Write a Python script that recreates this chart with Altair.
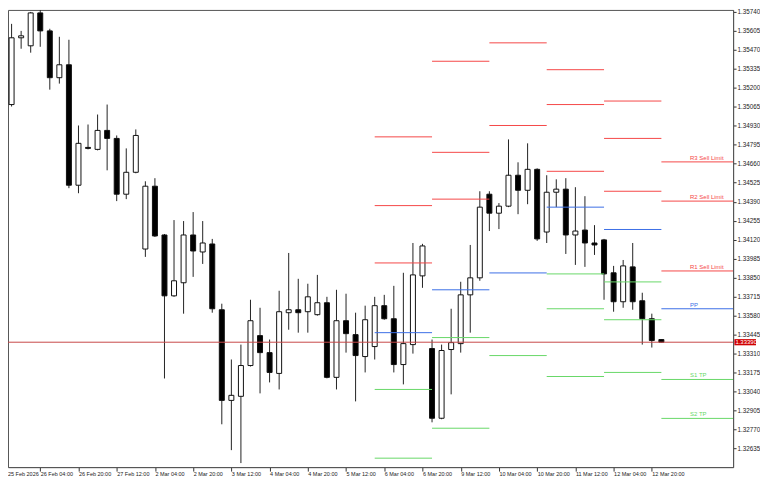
import altair as alt
import pandas as pd

# ---------------- data (4-hour candles, 25 Feb 2026 12:00 -> 13 Mar 2026 00:00) ----------------
opens = [1.35180, 1.35081, 1.35556, 1.35499, 1.35733, 1.35605, 1.35272, 1.35364, 1.34507, 1.34776,
         1.34762, 1.34897, 1.34840, 1.34443, 1.34599, 1.34053, 1.34500, 1.34153, 1.33720, 1.33813,
         1.34153, 1.34032, 1.34089, 1.33621, 1.32976, 1.33005, 1.33224, 1.33437, 1.33316, 1.33168,
         1.33600, 1.33621, 1.33607, 1.33586, 1.33671, 1.33140, 1.33543, 1.33444, 1.33288, 1.33359,
         1.33650, 1.33557, 1.33231, 1.33373, 1.33862, 1.33345, 1.32849, 1.33338, 1.33380, 1.33727,
         1.33848, 1.34443, 1.34308, 1.34358, 1.34578, 1.34471, 1.34620, 1.34174, 1.34457, 1.34479,
         1.34153, 1.34188, 1.34096, 1.34118, 1.33884, 1.33678, 1.33926, 1.33685, 1.33557, 1.33409]
highs = [1.35194, 1.35655, 1.35605, 1.35740, 1.35754, 1.35620, 1.35563, 1.35542, 1.34932, 1.34939,
         1.35010, 1.35081, 1.34861, 1.34769, 1.34904, 1.34535, 1.34557, 1.34160, 1.34259, 1.34252,
         1.34316, 1.34252, 1.34125, 1.33664, 1.33267, 1.33373, 1.33692, 1.33635, 1.33409, 1.33756,
         1.34025, 1.33841, 1.33806, 1.33869, 1.33713, 1.33763, 1.33735, 1.33600, 1.33650, 1.33713,
         1.33727, 1.33791, 1.33884, 1.34096, 1.34090, 1.33409, 1.33373, 1.33628, 1.33820, 1.34082,
         1.34464, 1.34464, 1.34380, 1.34833, 1.34670, 1.34805, 1.34627, 1.34578, 1.34549, 1.34557,
         1.34493, 1.34429, 1.34223, 1.34125, 1.33933, 1.33975, 1.34096, 1.33742, 1.33593, 1.33412]
lows = [1.35074, 1.35067, 1.35478, 1.35450, 1.35492, 1.35187, 1.35230, 1.34486, 1.34450, 1.34762,
        1.34755, 1.34613, 1.34394, 1.34408, 1.34592, 1.33997, 1.34139, 1.33132, 1.33713, 1.33593,
        1.33855, 1.33947, 1.33600, 1.32806, 1.32622, 1.32530, 1.33217, 1.33026, 1.33104, 1.33054,
        1.33479, 1.33458, 1.33458, 1.33579, 1.33133, 1.33054, 1.33316, 1.32969, 1.33175, 1.33267,
        1.33550, 1.33175, 1.33090, 1.33309, 1.33777, 1.32820, 1.32842, 1.33019, 1.33316, 1.33458,
        1.33827, 1.34181, 1.34195, 1.34351, 1.34301, 1.34372, 1.34111, 1.34096, 1.34351, 1.34018,
        1.33940, 1.33926, 1.34011, 1.33692, 1.33607, 1.33635, 1.33621, 1.33373, 1.33352, 1.33388]
closes = [1.35081, 1.35556, 1.35570, 1.35733, 1.35605, 1.35272, 1.35364, 1.34507, 1.34805, 1.34769,
          1.34897, 1.34840, 1.34443, 1.34599, 1.34861, 1.34500, 1.34146, 1.33720, 1.33827, 1.34153,
          1.34039, 1.34096, 1.33628, 1.32976, 1.33012, 1.33224, 1.33543, 1.33316, 1.33175, 1.33607,
          1.33621, 1.33600, 1.33713, 1.33671, 1.33140, 1.33543, 1.33451, 1.33295, 1.33550, 1.33650,
          1.33557, 1.33231, 1.33380, 1.33869, 1.34075, 1.32849, 1.33331, 1.33387, 1.33727, 1.33848,
          1.34351, 1.34308, 1.34358, 1.34578, 1.34471, 1.34620, 1.34125, 1.34457, 1.34479, 1.34153,
          1.34181, 1.34096, 1.34082, 1.33876, 1.33678, 1.33933, 1.33678, 1.33557, 1.33402, 1.33390]

# time-axis labels, one every 4 bars (bar 0 = 25 Feb 12:00)
time_labels = ["25 Feb 2026", "26 Feb 04:00", "26 Feb 20:00", "27 Feb 12:00", "2 Mar 04:00",
               "2 Mar 20:00", "3 Mar 12:00", "4 Mar 04:00", "4 Mar 20:00", "5 Mar 12:00",
               "6 Mar 04:00", "6 Mar 20:00", "9 Mar 12:00", "10 Mar 04:00", "10 Mar 20:00",
               "11 Mar 12:00", "12 Mar 04:00", "12 Mar 20:00"]

price_ticks = [1.35740, 1.35605, 1.35470, 1.35335, 1.35200, 1.35065, 1.34930, 1.34795,
               1.34660, 1.34525, 1.34390, 1.34255, 1.34120, 1.33985, 1.33850, 1.33715,
               1.33580, 1.33445, 1.33310, 1.33175, 1.33040, 1.32905, 1.32770, 1.32635]

# daily pivot levels (start bar, end bar of each day)
day_start = [39, 45, 51, 57, 63, 69]
day_end = [45, 51, 57, 63, 69, 78]
lvl_R3 = [1.34851, 1.35389, None, 1.35329, 1.35106, 1.34673]
lvl_R2 = [1.34362, 1.34741, 1.35520, 1.35081, 1.34840, 1.34394]
lvl_R1 = [1.33954, 1.34408, 1.34932, 1.34606, 1.34464, 1.33897]
lvl_PP = [1.33458, 1.33763, 1.33883, 1.34351, 1.34192, 1.33628]
lvl_S1 = [1.33054, 1.33423, 1.33295, 1.33876, 1.33819, 1.33125]
lvl_S2 = [1.32565, 1.32778, None, 1.33628, 1.33550, 1.32848]
lvl_S3 = [None, None, None, 1.33146, 1.33175, None]
last_day_labels = {"R3": "R3 Sell Limit", "R2": "R2 Sell Limit", "R1": "R1 Sell Limit",
                   "PP": "PP", "S1": "S1 TP", "S2": "S2 TP"}

bid = 1.33390

# ---------------- tables ----------------
candles = pd.DataFrame({"i": range(len(opens)), "open": opens, "high": highs,
                        "low": lows, "close": closes})

rows = []
for name, vals in [("R3", lvl_R3), ("R2", lvl_R2), ("R1", lvl_R1), ("PP", lvl_PP),
                   ("S1", lvl_S1), ("S2", lvl_S2), ("S3", lvl_S3)]:
    for d, v in enumerate(vals):
        if v is not None:
            rows.append({"kind": name[0] if name != "PP" else "P", "name": name,
                         "start": day_start[d], "end": day_end[d], "price": v,
                         "label": last_day_labels.get(name, "") if d == len(day_start) - 1 else ""})
levels = pd.DataFrame(rows)
labels_df = levels[levels["label"] != ""]

# ---------------- scales / axes ----------------
W, H = 728, 459
XS = alt.Scale(domain=[0.6254, 76.506], nice=False, zero=False, padding=0)
YS = alt.Scale(domain=[1.325014, 1.357542], nice=False, zero=False, padding=0)
FONT = "Liberation Sans"
RED, BLUE, GREEN = "#f54848", "#3b6fe6", "#68d868"
kind_color = alt.Color("kind:N", scale=alt.Scale(domain=["R", "P", "S"], range=[RED, BLUE, GREEN]),
                       legend=None)

label_expr = "[" + ",".join("'" + s + "'" for s in time_labels) + "][round(datum.value/4)]"

x_axis = alt.Axis(values=list(range(4, 4 * len(time_labels), 4)), labelExpr=label_expr,
                  grid=False, tickSize=4, tickColor="#333", domainColor="#555",
                  labelAlign="left", labelBaseline="middle", labelPadding=2.5,
                  labelFont=FONT, labelFontSize=5.5, labelColor="#222", labelFlush=False,
                  labelOverlap=False, title=None)
y_axis = alt.Axis(orient="right", values=price_ticks, format=".5f", grid=False, tickSize=3,
                  tickColor="#333", domainColor="#555", labelPadding=1, labelFont=FONT,
                  labelFontSize=6.3, labelColor="#222", labelOverlap=False, labelFlush=False,
                  title=None)


def X(field, **kw):
    return alt.X(field, scale=XS, axis=x_axis, **kw)


def Y(field, **kw):
    return alt.Y(field, scale=YS, axis=y_axis, **kw)


base = alt.Chart(candles)

wicks = base.mark_rule(color="#222", strokeWidth=1, clip=True).encode(
    x=X("i:Q"), y=Y("low:Q"), y2="high:Q",
)

bodies = base.mark_bar(width=5, stroke="#111", strokeWidth=1, clip=True).encode(
    x=X("i:Q"), y=Y("open:Q"), y2="close:Q",
    fill=alt.condition("datum.close >= datum.open", alt.value("white"), alt.value("black")),
)

level_lines = alt.Chart(levels).mark_rule(strokeWidth=1, clip=True).encode(
    x=X("start:Q"), x2="end:Q", y=Y("price:Q"), color=kind_color,
)

level_text = alt.Chart(labels_df).mark_text(
    align="left", baseline="alphabetic", dy=-2, font=FONT, fontSize=6
).encode(
    x=alt.datum(72.0, scale=XS, axis=x_axis),
    y=Y("price:Q"),
    text="label:N",
    color=kind_color,
)

bid_df = pd.DataFrame({"price": [bid]})
bid_line = alt.Chart(bid_df).mark_rule(color="#c84848", strokeWidth=1, clip=True).encode(
    y=Y("price:Q")
)

bid_box = alt.Chart(bid_df).transform_calculate(
    lo="datum.price - 0.00022", hi="datum.price + 0.00022"
).mark_rect(color="#d00000").encode(
    x=alt.datum(76.64, scale=XS, axis=x_axis), x2=alt.datum(78.9),
    y=Y("lo:Q"), y2="hi:Q",
)
bid_text = alt.Chart(bid_df).mark_text(
    align="left", baseline="middle", font=FONT, fontSize=6, color="white", dx=1
).encode(
    x=alt.datum(76.64, scale=XS, axis=x_axis),
    y=Y("price:Q"),
    text=alt.Text("price:Q", format=".5f"),
)

first_label = alt.Chart(pd.DataFrame({"t": [time_labels[0]]})).mark_text(
    align="left", baseline="middle", font=FONT, fontSize=5.5, color="#222"
).encode(x=alt.value(0), y=alt.value(H + 6.5), text="t:N")

chart = alt.layer(wicks, bodies, level_lines, level_text, bid_line, bid_box, bid_text,
                  first_label).properties(
    width=W, height=H, padding=0, background="white"
).configure_view(stroke="#555", strokeWidth=1)

chart.save("out.html", embed_options={"renderer": "svg", "actions": False})
